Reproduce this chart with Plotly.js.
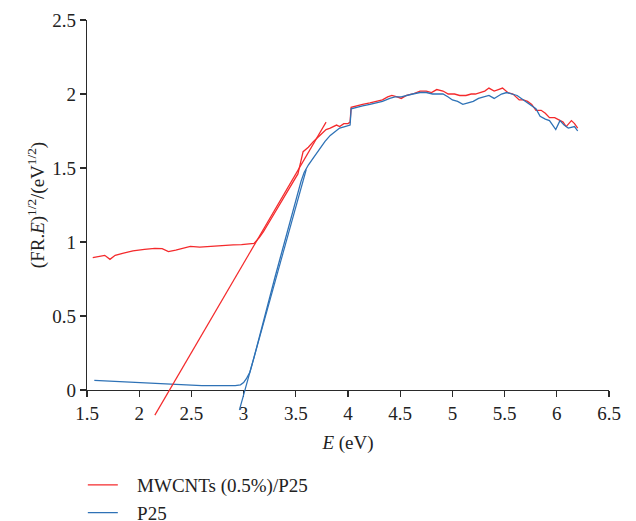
<!DOCTYPE html>
<html>
<head>
<meta charset="utf-8">
<script src="https://cdn.plot.ly/plotly-3.0.1.min.js"></script>
<style>html,body{margin:0;padding:0;background:#fff;}#chart{width:636px;height:521px;}</style>
</head>
<body>
<div id="chart"></div>
<script>
// MWCNTs (0.5%)/P25 data
const mwX = [1.555,1.62,1.67,1.72,1.77,1.85,1.94,2.05,2.15,2.22,2.28,2.35,2.42,2.49,2.58,2.66,2.74,2.82,2.90,2.98,3.06,3.10,3.15,3.19,3.25,3.30,3.35,3.40,3.44,3.48,3.52,3.55,3.57,3.62,3.67,3.73,3.79,3.83,3.89,3.92,3.96,4.00,4.02,4.03,4.08,4.14,4.21,4.27,4.33,4.38,4.42,4.47,4.51,4.56,4.62,4.69,4.75,4.80,4.85,4.91,4.96,5.02,5.07,5.13,5.18,5.22,5.26,5.31,5.35,5.40,5.44,5.48,5.53,5.58,5.64,5.68,5.72,5.76,5.80,5.85,5.89,5.93,5.98,6.03,6.06,6.09,6.14,6.17,6.20];
const mwY = [0.894,0.905,0.91,0.883,0.91,0.925,0.94,0.95,0.957,0.955,0.935,0.945,0.96,0.97,0.965,0.97,0.975,0.978,0.98,0.982,0.984,0.99,1.03,1.07,1.14,1.20,1.26,1.32,1.37,1.41,1.46,1.55,1.61,1.64,1.68,1.72,1.76,1.77,1.79,1.78,1.80,1.80,1.81,1.91,1.92,1.93,1.94,1.95,1.96,1.98,1.99,1.98,1.97,1.99,2.00,2.02,2.02,2.01,2.03,2.02,2.00,2.00,1.99,1.99,2.00,2.00,2.01,2.02,2.04,2.02,2.03,2.04,2.01,2.00,1.96,1.96,1.95,1.93,1.89,1.89,1.87,1.84,1.84,1.82,1.81,1.78,1.82,1.80,1.77];
// P25 data
const p25X = [1.57,1.7,1.8,1.9,2.0,2.15,2.3,2.45,2.6,2.75,2.85,2.92,2.97,3.00,3.03,3.06,3.10,3.15,3.20,3.25,3.30,3.35,3.40,3.45,3.50,3.53,3.55,3.58,3.62,3.67,3.73,3.78,3.83,3.88,3.92,3.97,4.02,4.03,4.08,4.14,4.21,4.27,4.33,4.40,4.45,4.51,4.56,4.62,4.69,4.75,4.81,4.86,4.91,4.96,5.00,5.05,5.10,5.15,5.20,5.25,5.29,5.35,5.40,5.44,5.47,5.52,5.58,5.62,5.66,5.70,5.75,5.80,5.84,5.89,5.93,5.99,6.03,6.07,6.11,6.17,6.20];
const p25Y = [0.065,0.06,0.055,0.051,0.048,0.043,0.038,0.034,0.03,0.029,0.028,0.03,0.035,0.05,0.08,0.12,0.22,0.36,0.50,0.63,0.76,0.89,1.02,1.15,1.28,1.36,1.41,1.47,1.52,1.57,1.63,1.68,1.72,1.75,1.77,1.78,1.79,1.90,1.91,1.92,1.93,1.94,1.95,1.97,1.98,1.98,1.99,2.00,2.01,2.01,2.00,2.00,2.00,1.98,1.96,1.95,1.93,1.94,1.95,1.97,1.98,1.99,1.97,1.99,2.00,2.01,2.00,1.99,1.97,1.95,1.93,1.90,1.85,1.83,1.82,1.76,1.82,1.79,1.77,1.78,1.75];
// Tangent (band-gap extrapolation) lines
const tanMwX = [2.15, 3.79];
const tanMwY = [-0.17, 1.81];
const tanP25X = [2.96, 3.60];
const tanP25Y = [-0.135, 1.49];

const red = '#f42a2c';
const blue = '#2e72b6';
const axisColor = '#2a2a2a';
const serif = 'Liberation Serif, Times New Roman, serif';
const fs = 19;

// Plot area: pixel top 20, main axis bottom 390, overlay subplot bottom 420
const plotTop = 20, axisBottom = 390, extBottom = 420;
const H = 521;
const mainDomLow = (extBottom - axisBottom) / (extBottom - plotTop);
const unitPx = (axisBottom - plotTop) / 2.5;
const y2Low = 2.5 - (extBottom - plotTop) / unitPx;

const traces = [
  {x: mwX, y: mwY, mode: 'lines', name: '&nbsp;&nbsp;&nbsp;MWCNTs (0.5%)/P25', line: {color: red, width: 1.3}, xaxis: 'x', yaxis: 'y'},
  {x: p25X, y: p25Y, mode: 'lines', name: '&nbsp;&nbsp;&nbsp;P25', line: {color: blue, width: 1.3}, xaxis: 'x', yaxis: 'y'},
  {x: tanMwX, y: tanMwY, mode: 'lines', showlegend: false, line: {color: red, width: 1.2}, xaxis: 'x2', yaxis: 'y2'},
  {x: tanP25X, y: tanP25Y, mode: 'lines', showlegend: false, line: {color: blue, width: 1.2}, xaxis: 'x2', yaxis: 'y2'}
];

const layout = {
  width: 636, height: H,
  margin: {l: 87, r: 27, t: plotTop, b: H - extBottom, autoexpand: false},
  paper_bgcolor: '#fff', plot_bgcolor: 'rgba(0,0,0,0)',
  font: {family: serif, size: fs, color: '#222'},
  showlegend: true,
  legend: {x: -0.008, y: (extBottom - 466) / (extBottom - plotTop), xanchor: 'left', yanchor: 'top',
           font: {family: serif, size: fs, color: '#222'}, bgcolor: 'rgba(0,0,0,0)', tracegroupgap: 0},
  xaxis: {
    domain: [0, 1], anchor: 'y',
    range: [1.5, 6.5], dtick: 0.5, tick0: 1.5,
    showgrid: false, zeroline: false, showline: true, linecolor: axisColor, linewidth: 1.2,
    ticks: 'outside', ticklen: 6, tickcolor: axisColor, tickwidth: 1.2,
    tickfont: {family: serif, size: fs, color: '#222'},
    title: {text: '<i>E</i> (eV)', font: {family: serif, size: fs, color: '#222'}, standoff: 12}
  },
  yaxis: {
    domain: [mainDomLow, 1], anchor: 'x',
    range: [0, 2.5], dtick: 0.5,
    showgrid: false, zeroline: false, showline: true, linecolor: axisColor, linewidth: 1.2,
    ticks: 'outside', ticklen: 6, tickcolor: axisColor, tickwidth: 1.2,
    tickfont: {family: serif, size: fs, color: '#222'},
    title: {text: '(FR.<i>E</i>)<sup>1/2</sup>/(eV<sup>1/2</sup>)', font: {family: serif, size: fs, color: '#222'}, standoff: 2}
  },
  xaxis2: {domain: [0, 1], anchor: 'y2', range: [1.5, 6.5], visible: false, overlaying: 'x'},
  yaxis2: {domain: [0, 1], anchor: 'x2', range: [y2Low, 2.5], visible: false}
};

Plotly.newPlot('chart', traces, layout, {displayModeBar: false, staticPlot: true});
</script>
</body>
</html>
